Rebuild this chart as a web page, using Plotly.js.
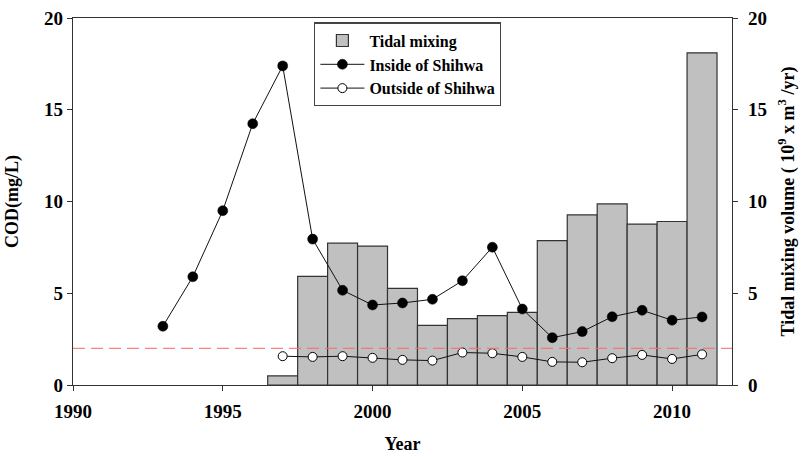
<!DOCTYPE html>
<html>
<head>
<meta charset="utf-8">
<script src="https://cdn.plot.ly/plotly-3.0.1.min.js"></script>
<style>html,body{margin:0;padding:0;background:#fff;}#chart{width:811px;height:456px;}</style>
</head>
<body>
<div id="chart"></div>
<script>
// Data
var barYears = [1997, 1998, 1999, 2000, 2001, 2002, 2003, 2004, 2005, 2006, 2007, 2008, 2009, 2010, 2011];
var tidalMixing = [0.5, 5.92, 7.73, 7.57, 5.27, 3.25, 3.62, 3.78, 3.96, 7.87, 9.27, 9.87, 8.77, 8.91, 18.1];

var insideYears = [1993, 1994, 1995, 1996, 1997, 1998, 1999, 2000, 2001, 2002, 2003, 2004, 2005, 2006, 2007, 2008, 2009, 2010, 2011];
var insideCOD = [3.2, 5.9, 9.5, 14.24, 17.39, 7.95, 5.16, 4.36, 4.47, 4.67, 5.68, 7.51, 4.14, 2.58, 2.91, 3.72, 4.07, 3.53, 3.71];

var outsideYears = [1997, 1998, 1999, 2000, 2001, 2002, 2003, 2004, 2005, 2006, 2007, 2008, 2009, 2010, 2011];
var outsideCOD = [1.57, 1.53, 1.57, 1.48, 1.37, 1.33, 1.77, 1.73, 1.53, 1.26, 1.24, 1.46, 1.64, 1.42, 1.67];

var standardCOD = 2;
var xTicks = [1990, 1995, 2000, 2005, 2010];
var yTicks = [0, 5, 10, 15, 20];

var serif = 'Liberation Serif, Times New Roman, serif';

var traces = [
  {
    type: 'bar', name: 'Tidal mixing', x: barYears, y: tidalMixing,
    width: 1, yaxis: 'y',
    marker: {color: '#c0c0c0', line: {color: '#333333', width: 1.2}}
  },
  {
    type: 'scatter', mode: 'lines+markers', name: 'Inside of Shihwa',
    x: insideYears, y: insideCOD, yaxis: 'y2',
    line: {color: '#111111', width: 1},
    marker: {color: '#000000', size: 10, line: {color: '#000000', width: 0.5}}
  },
  {
    type: 'scatter', mode: 'lines+markers', name: 'Outside of Shihwa',
    x: outsideYears, y: outsideCOD, yaxis: 'y2',
    line: {color: '#111111', width: 1},
    marker: {color: '#ffffff', size: 9, line: {color: '#000000', width: 1}}
  }
];

var axisFont = {family: serif, size: 19, color: '#000', weight: 'bold'};
var titleFont = {family: serif, size: 18, color: '#000', weight: 'bold'};

var layout = {
  width: 811, height: 456,
  margin: {l: 73, r: 79, t: 18, b: 71},
  paper_bgcolor: '#ffffff', plot_bgcolor: '#ffffff',
  font: {family: serif, color: '#000'},
  showlegend: true,
  bargap: 0,
  xaxis: {
    range: [1990, 2012], tickvals: xTicks, ticktext: xTicks.map(String),
    ticks: 'outside', ticklen: 5, tickcolor: '#333', tickwidth: 1,
    showline: true, linecolor: '#333', linewidth: 1.2, mirror: true,
    showgrid: false, zeroline: false,
    tickfont: axisFont, ticklabelstandoff: 4,
    title: {text: 'Year', font: titleFont, standoff: 16}
  },
  yaxis: {
    range: [0, 20], tickvals: yTicks,
    ticks: 'outside', ticklen: 5, tickcolor: '#333',
    showline: true, linecolor: '#333', linewidth: 1.2,
    showgrid: false, zeroline: false,
    tickfont: axisFont,
    title: {text: 'COD(mg/L)', font: titleFont, standoff: 20}
  },
  yaxis2: {
    range: [0, 20], tickvals: yTicks, overlaying: 'y', side: 'right',
    ticks: 'outside', ticklen: 5, tickcolor: '#333',
    showline: true, linecolor: '#333', linewidth: 1.2,
    showgrid: false, zeroline: false,
    tickfont: axisFont, ticklabelstandoff: 6,
    title: {text: 'Tidal mixing volume ( 10<sup>9</sup> x m<sup>3</sup> /yr)', font: titleFont, standoff: 15}
  },
  legend: {
    x: 0.366, y: 0.988, xanchor: 'left', yanchor: 'top',
    bgcolor: '#ffffff', bordercolor: '#444', borderwidth: 1.2,
    font: {family: serif, size: 16, color: '#000', weight: 'bold'},
    traceorder: 'normal', itemwidth: 44
  },
  shapes: [{
    type: 'line', xref: 'paper', x0: 0, x1: 1, yref: 'y', y0: standardCOD, y1: standardCOD,
    line: {color: 'rgba(245,110,110,0.85)', width: 1.2, dash: '12px,6px'}
  }]
};

Plotly.newPlot('chart', traces, layout, {displayModeBar: false, staticPlot: true});
</script>
</body>
</html>
